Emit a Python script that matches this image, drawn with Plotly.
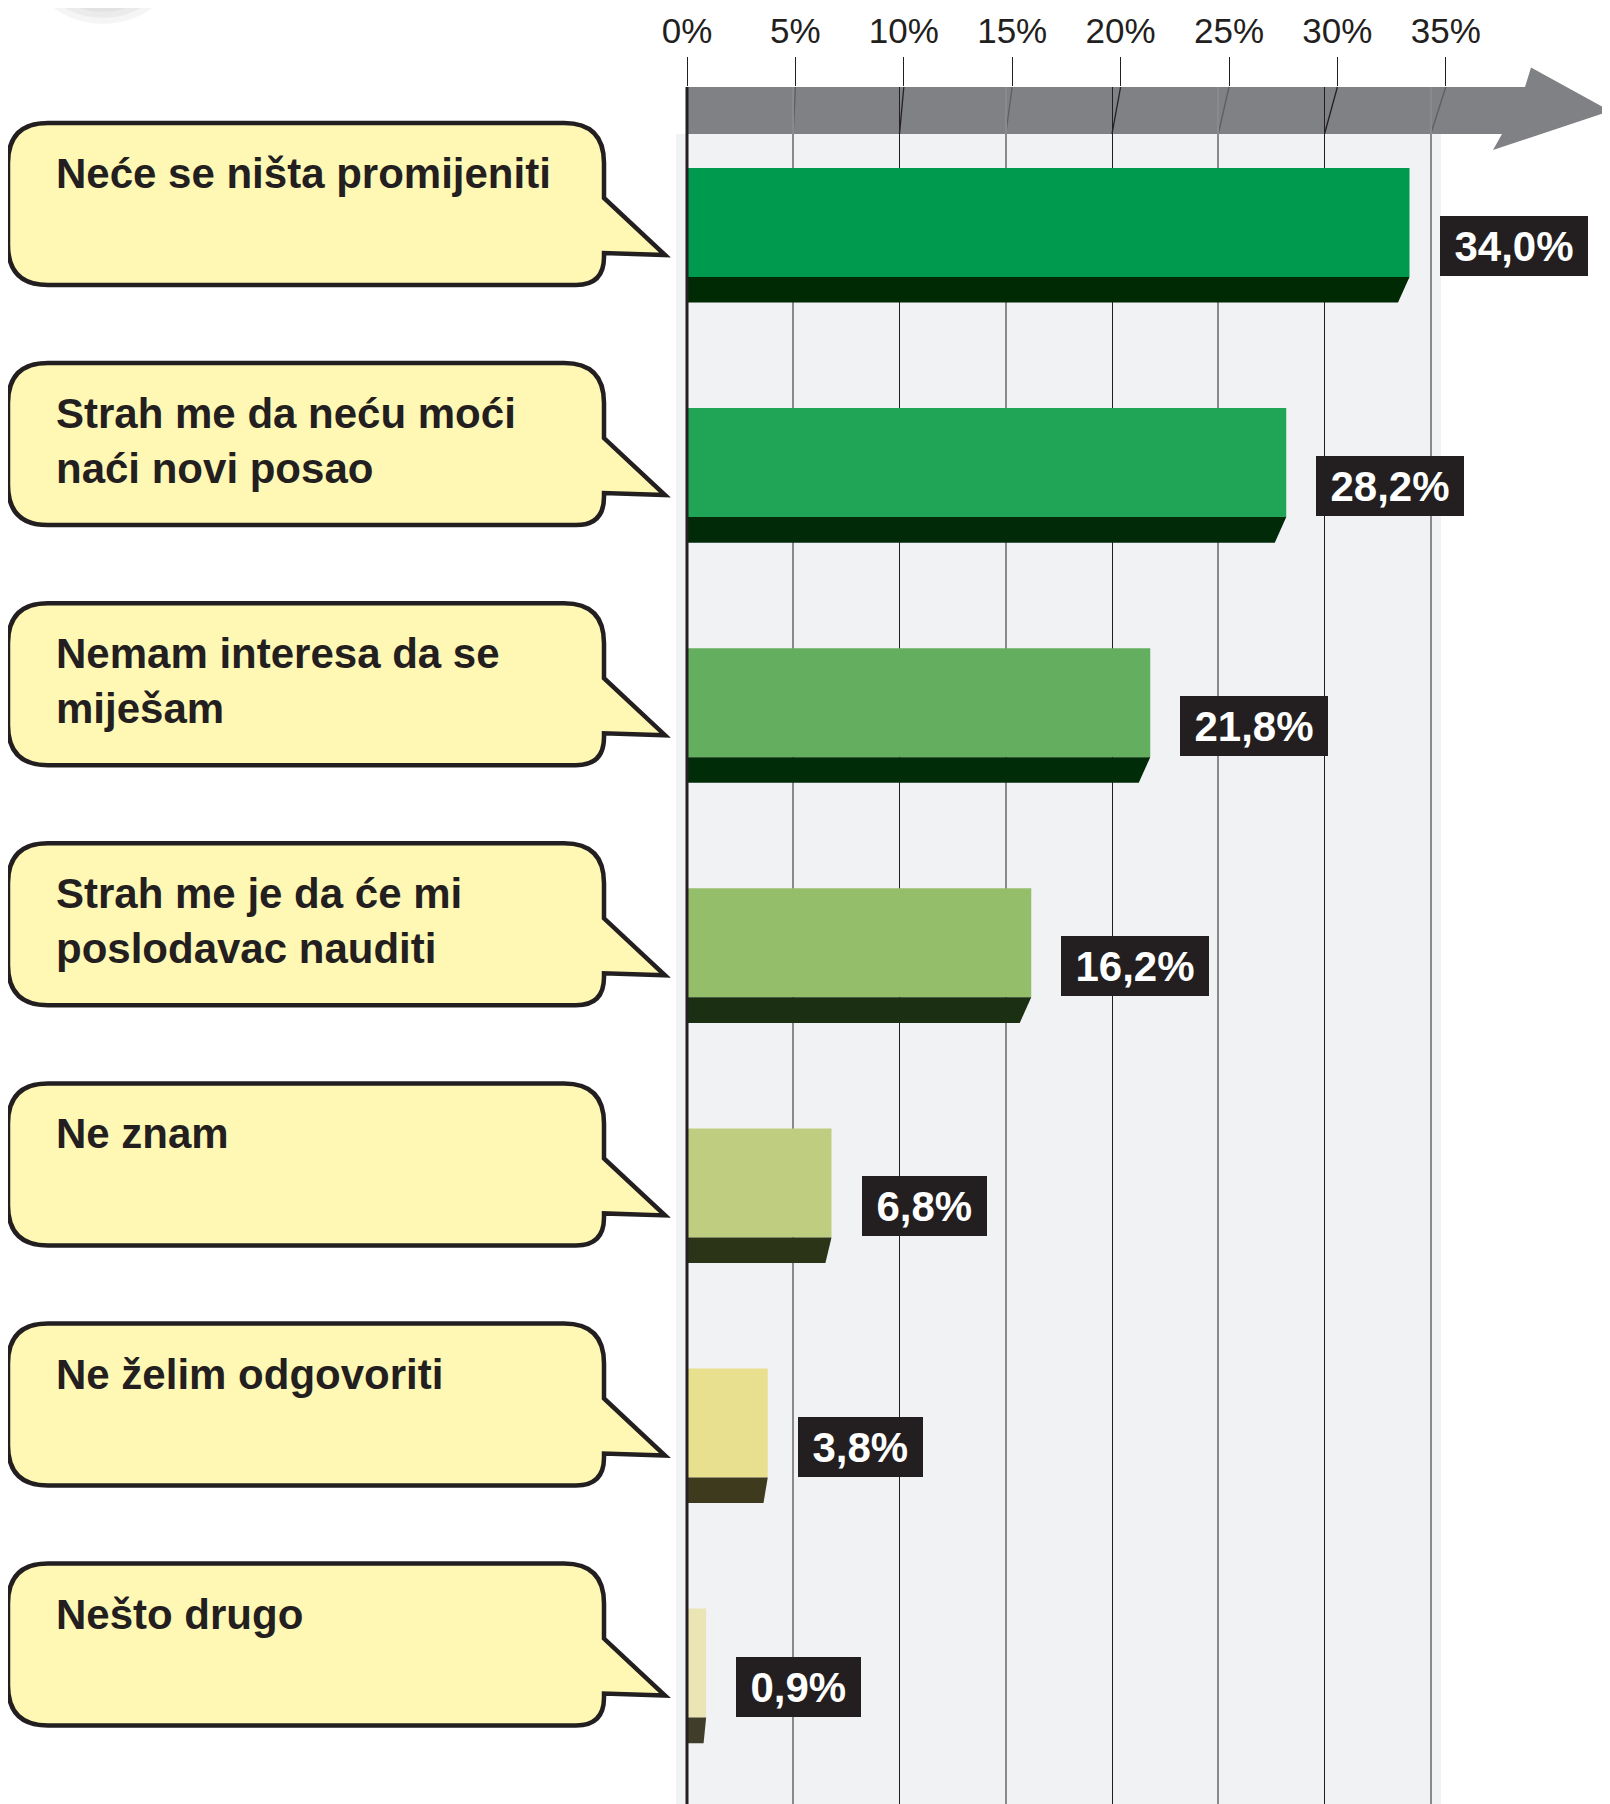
import plotly.graph_objects as go

# ---------------- data ----------------
categories = [
    "Neće se ništa promijeniti",
    "Strah me da neću moći<br>naći novi posao",
    "Nemam interesa da se<br>miješam",
    "Strah me je da će mi<br>poslodavac nauditi",
    "Ne znam",
    "Ne želim odgovoriti",
    "Nešto drugo",
]
values = [34.0, 28.2, 21.8, 16.2, 6.8, 3.8, 0.9]
value_labels = ["34,0%", "28,2%", "21,8%", "16,2%", "6,8%", "3,8%", "0,9%"]
tick_values = [0, 5, 10, 15, 20, 25, 30, 35]
tick_labels = ["0%", "5%", "10%", "15%", "20%", "25%", "30%", "35%"]
bar_colors = ["#009a4e", "#20a455", "#63ae5f", "#95be6b", "#bfcd80", "#e8e08f", "#ebe4b5"]
shadow_colors = ["#002a04", "#002a08", "#002c08", "#1b2f13", "#2b3417", "#3e3a1e", "#403d2b"]

# ---------------- geometry (page pixels) ----------------
PAGE_W, PAGE_H = 1610, 1804
OFF = 8                 # default body margin of the html page
W, H = PAGE_W - OFF, PAGE_H - OFF
TOP = 87                # plot area top (arrow top), page px
X0 = 687                # page pixel of 0 %
PXP = 21.25             # pixels per percent (bars / grid)
PXP_TOP = 21.68         # pixels per percent (top tick labels, perspective)
PITCH = 240.1           # row pitch
C0 = 235.3              # centre of first row group (page px)
GREEN_H, SHADOW_H = 109, 25.6
GRP_HALF = (GREEN_H + SHADOW_H) / 2

def xd(px):
    return (px - X0) / PXP

def xpaper(px):
    return (px - OFF) / W

def yrow(i, off):
    """data y for an offset (px) relative to the top of row i's bar"""
    return i + (off - GRP_HALF) / PITCH

def ypaper(py):
    return (PAGE_H - py) / (PAGE_H - TOP)

xrange_main = [xd(OFF), xd(PAGE_W)]
xrange_top = [(OFF - X0) / PXP_TOP, (PAGE_W - X0) / PXP_TOP]
yrange = [(PAGE_H - C0) / PITCH, (TOP - C0) / PITCH]

DARK = "#231f20"
FONT = "Liberation Sans, Arial, Helvetica, sans-serif"

fig = go.Figure()

# main bars
n = len(values)
fig.add_trace(go.Bar(
    x=values, y=list(range(n)), orientation="h",
    marker=dict(color=bar_colors, line=dict(width=0)),
    width=GREEN_H / PITCH, offset=-GRP_HALF / PITCH,
    hoverinfo="skip", showlegend=False,
))

# shadows (slanted right end)
for i, (v, c) in enumerate(zip(values, shadow_colors)):
    slant = min(11.5, 2 + 0.6 * v) / PXP
    ya = yrow(i, GREEN_H)
    yb = yrow(i, GREEN_H + SHADOW_H)
    fig.add_trace(go.Scatter(
        x=[0, v, v - slant, 0, 0], y=[ya, ya, yb, yb, ya],
        mode="lines", fill="toself", fillcolor=c,
        line=dict(width=0, color=c), hoverinfo="skip", showlegend=False,
    ))

# invisible trace for top tick axis
fig.add_trace(go.Scatter(x=[0], y=[0], xaxis="x2", mode="markers",
                         marker=dict(opacity=0), hoverinfo="skip", showlegend=False))

shapes = []
# light panel
shapes.append(dict(type="rect", xref="x", yref="paper", x0=xd(676), x1=xd(1441),
                   y0=0, y1=ypaper(134), fillcolor="#f1f2f4", line=dict(width=0), layer="below"))
# arrow
arrow_pts = [(687, 87), (1525, 87), (1531, 67.5), (1610, 111), (1493, 150), (1502, 134), (687, 134)]
path = "M " + " L ".join(f"{xd(px)},{ypaper(py)}" for px, py in arrow_pts) + " Z"
shapes.append(dict(type="path", xref="x", yref="paper", path=path,
                   fillcolor="#808184", line=dict(width=0), layer="between"))
# slanted tick connectors through arrow
for v in tick_values[1:]:
    col = DARK if v % 10 == 0 else "#5d5e60"
    shapes.append(dict(type="line", xref="x", yref="paper",
                       x0=v * PXP_TOP / PXP, y0=ypaper(87), x1=v, y1=ypaper(134),
                       line=dict(color=col, width=1.3), layer="between"))
# zero line
shapes.append(dict(type="line", xref="x", yref="paper", x0=0, x1=0, y0=0, y1=1,
                   line=dict(color=DARK, width=3), layer="above"))

# callout bubbles
L, R, TIPX = 8, 604, 665
r, br = 40, 28
for i in range(n):
    top, bot = -45, 117
    P = lambda px, off: f"{xd(px)},{yrow(i, off)}"
    d = (f"M {P(L + r, top)} L {P(R - r, top)} Q {P(R, top)} {P(R, top + r)} "
         f"L {P(R, 30)} L {P(TIPX, 87)} L {P(R, 85)} "
         f"L {P(R, bot - br)} Q {P(R, bot)} {P(R - br, bot)} "
         f"L {P(L + r, bot)} Q {P(L, bot)} {P(L, bot - r)} "
         f"L {P(L, top + r)} Q {P(L, top)} {P(L + r, top)} Z")
    shapes.append(dict(type="path", xref="x", yref="y", path=d, fillcolor="#fff8b4",
                       line=dict(color=DARK, width=4.5), layer="above"))

# top-left blurred shadow blob
for k in range(8):
    rad = 75 - k * 7
    shapes.append(dict(type="circle", xref="paper", yref="paper",
                       x0=xpaper(103 - rad), x1=xpaper(103 + rad),
                       y0=ypaper(-40 + rad * 0.85), y1=ypaper(-40 - rad * 0.85),
                       fillcolor="rgba(120,120,120,0.07)", line=dict(width=0), layer="above"))

annotations = []
GW = {"0": .556, "1": .556, "2": .556, "3": .556, "4": .556, "5": .556, "6": .556,
      "7": .556, "8": .556, "9": .556, ",": .278, "%": .889}
VF = 42
for i, (v, lab) in enumerate(zip(values, value_labels)):
    est = sum(GW.get(ch, .556) for ch in lab) * VF
    annotations.append(dict(
        x=v, y=yrow(i, 78), xref="x", yref="y", xanchor="left", yanchor="middle",
        xshift=30, text=f"<b>{lab}</b>", showarrow=False,
        font=dict(family=FONT, size=VF, color="white"),
        bgcolor=DARK, bordercolor=DARK, borderwidth=1, borderpad=6,
        width=est + 15, height=46, align="center",
    ))
for i, cat in enumerate(categories):
    annotations.append(dict(
        x=xd(54), y=yrow(i, -20), xref="x", yref="y", xanchor="left", yanchor="top",
        text=f"<b>{cat}</b>", showarrow=False, align="left",
        font=dict(family=FONT, size=42, color=DARK),
    ))

fig.update_layout(
    width=W, height=H,
    margin=dict(l=0, r=0, t=TOP - OFF, b=0),
    paper_bgcolor="white", plot_bgcolor="white",
    barmode="overlay",
    shapes=shapes, annotations=annotations,
    xaxis=dict(range=xrange_main, tickmode="array", tickvals=[10, 20, 30],
               showticklabels=False, showgrid=True, gridcolor=DARK, gridwidth=1.3,
               minor=dict(tickmode="array", tickvals=[5, 15, 25, 35], showgrid=True,
                          gridcolor="#8a8a8c", gridwidth=2),
               zeroline=False, showline=False, ticks="", fixedrange=True),
    xaxis2=dict(range=xrange_top, overlaying="x", side="top", anchor="y",
                tickmode="array", tickvals=tick_values, ticktext=tick_labels,
                ticks="outside", ticklen=29, tickwidth=1.2, tickcolor=DARK,
                showgrid=False, zeroline=False, showline=False,
                tickfont=dict(family=FONT, size=35, color=DARK)),
    yaxis=dict(range=yrange, showgrid=False, zeroline=False, showticklabels=False,
               ticks="", fixedrange=True),
    showlegend=False,
)

fig.write_html("out.html")
